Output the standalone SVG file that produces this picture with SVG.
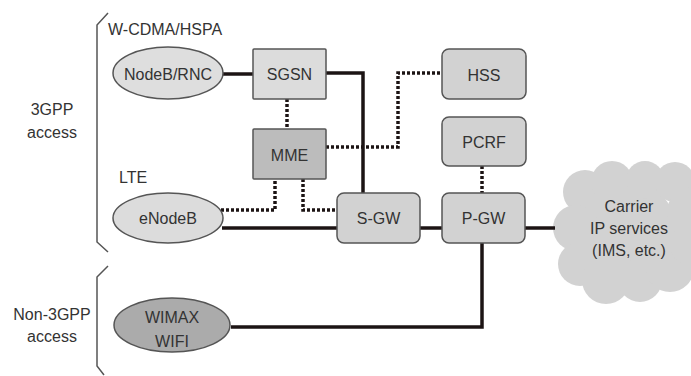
<svg xmlns="http://www.w3.org/2000/svg" width="691" height="376" viewBox="0 0 691 376">
  <style>
    text { font-family: "Liberation Sans", Arial, sans-serif; font-size: 16px; fill: #333; }
    .c { text-anchor: middle; }
    .box { stroke: #555; stroke-width: 1.5; }
    .solid { fill: none; stroke: #1c1414; stroke-width: 3.5; }
    .dot { fill: none; stroke: #1c1414; stroke-width: 3.5; stroke-dasharray: 3 2; }
    .brace { fill: none; stroke: #555; stroke-width: 1.5; }
  </style>
  <rect width="691" height="376" fill="#fff"/>

  <g id="brackets">
    <path class="brace" d="M108,13 L97,25 L97,242 L108,252"/>
    <path class="brace" d="M108,266 L97,277 L97,366 L104,375"/>
    <text class="c" x="52" y="115">3GPP</text>
    <text class="c" x="52" y="138">access</text>
    <text class="c" x="52" y="320">Non-3GPP</text>
    <text class="c" x="52" y="342">access</text>
    <text x="108" y="35">W-CDMA/HSPA</text>
    <text x="119" y="183">LTE</text>
  </g>

  <g id="cloud">
    <g fill="#d2d2d2">
      <circle cx="625" cy="232" r="52"/>
      <circle cx="585" cy="192" r="22"/>
      <circle cx="612" cy="182" r="21"/>
      <circle cx="645" cy="180" r="19"/>
      <circle cx="675" cy="182" r="20"/>
      <circle cx="692" cy="212" r="25"/>
      <circle cx="576" cy="228" r="23"/>
      <circle cx="580" cy="264" r="22"/>
      <circle cx="606" cy="280" r="24"/>
      <circle cx="640" cy="280" r="22"/>
      <circle cx="670" cy="268" r="24"/>
      <circle cx="690" cy="245" r="20"/>
    </g>
    <text class="c" x="629" y="212">Carrier</text>
    <text class="c" x="629" y="234">IP services</text>
    <text class="c" x="629" y="256">(IMS, etc.)</text>
  </g>

  <g id="connectors">
    <path class="solid" d="M222,74 L253,74"/>
    <path class="solid" d="M326,73 L363,73 L363,193"/>
    <path class="solid" d="M222,228 L337,228"/>
    <path class="solid" d="M420,228 L442,228"/>
    <path class="solid" d="M525,228 L555,228"/>
    <path class="solid" d="M231,327 L482,327 L482,243"/>
    <path class="dot" d="M287,99 L287,129"/>
    <path class="dot" d="M326,147 L398,147 L398,73 L442,73"/>
    <path class="dot" d="M221,210 L275,210 L275,179"/>
    <path class="dot" d="M303,179 L303,210 L337,210"/>
    <path class="dot" d="M482,166 L482,193"/>
  </g>

  <g id="nodeb">
    <ellipse class="box" cx="168" cy="73" rx="55" ry="26" fill="#dedede"/>
    <text class="c" x="168" y="80">NodeB/RNC</text>
  </g>
  <g id="sgsn">
    <rect class="box" x="253" y="49" width="73" height="50" rx="1" fill="#dcdcdc"/>
    <text class="c" x="289.5" y="80">SGSN</text>
  </g>
  <g id="mme">
    <rect class="box" x="253" y="129" width="73" height="50" rx="1" fill="#bcbcbc"/>
    <text class="c" x="289.5" y="161">MME</text>
  </g>
  <g id="hss">
    <rect class="box" x="442" y="49" width="84" height="50" rx="7" fill="#d2d2d2"/>
    <text class="c" x="484" y="81">HSS</text>
  </g>
  <g id="pcrf">
    <rect class="box" x="442" y="117" width="84" height="49" rx="7" fill="#d2d2d2"/>
    <text class="c" x="484" y="148">PCRF</text>
  </g>
  <g id="enodeb">
    <ellipse class="box" cx="168" cy="218" rx="55" ry="25" fill="#dcdcdc"/>
    <text class="c" x="168" y="224">eNodeB</text>
  </g>
  <g id="sgw">
    <rect class="box" x="337" y="193" width="83" height="50" rx="7" fill="#d2d2d2"/>
    <text class="c" x="378.5" y="224">S-GW</text>
  </g>
  <g id="pgw">
    <rect class="box" x="442" y="193" width="83" height="50" rx="7" fill="#d2d2d2"/>
    <text class="c" x="483.5" y="224">P-GW</text>
  </g>
  <g id="wimax">
    <ellipse class="box" cx="172" cy="325" rx="58" ry="27" fill="#ababab"/>
    <text class="c" x="172" y="323">WIMAX</text>
    <text class="c" x="172" y="347">WIFI</text>
  </g>
</svg>
